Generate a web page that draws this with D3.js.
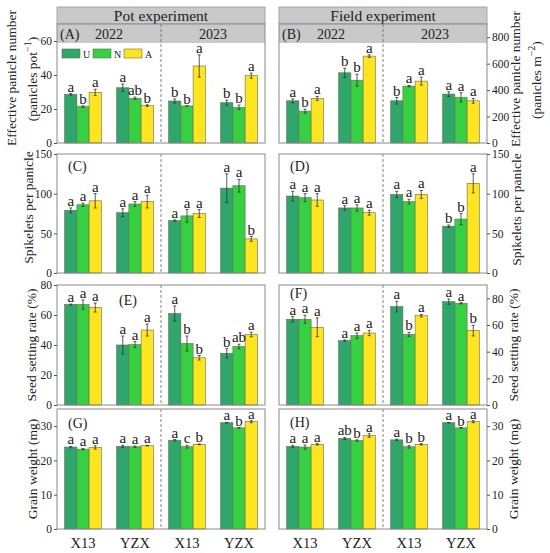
<!DOCTYPE html>
<html>
<head>
<meta charset="utf-8">
<script src="https://cdn.jsdelivr.net/npm/d3@7"></script>
<style>
body { margin: 0; background: #fff; }
text { font-family: "Liberation Serif", "Times New Roman", serif; fill: #222; }
</style>
</head>
<body>
<script>
// categories
var cultivars = ["X13", "YZX", "X13", "YZX"];
var years = ["2022", "2023"];
var treatments = ["U", "N", "A"];
var colors = { U: "#2fa66c", N: "#35d142", A: "#ffe51f" };

// values, one row per group [U, N, A]
var panPotMean = [[28.6, 21.4, 29.8], [32.5, 26.3, 22.0], [24.7, 21.8, 45.3], [23.7, 21.0, 39.6]];
var panPotErr = [[0.5, 0.5, 1.8], [2.2, 0.7, 0.5], [1.2, 0, 6.5], [1.5, 1.3, 1.5]];
var panPotLet = [["a", "b", "a"], ["a", "ab", "b"], ["b", "b", "a"], ["b", "b", "a"]];

var panFieldMean = [[319, 241, 337], [531, 475, 657], [319, 430, 468], [370, 345, 319]];
var panFieldErr = [[15, 15, 15], [35, 45, 10], [25, 5, 30], [18, 35, 18]];
var panFieldLet = [["a", "b", "a"], ["b", "b", "a"], ["b", "a", "a"], ["a", "a", "a"]];

var spkPotMean = [[79, 86, 91], [76, 87, 90], [66, 72, 75], [107, 110, 43]];
var spkPotErr = [[3, 2, 9], [5, 3, 8], [1, 8, 5], [18, 8, 3]];
var spkPotLet = [["a", "a", "a"], ["a", "a", "a"], ["a", "a", "a"], ["a", "a", "b"]];

var spkFieldMean = [[97, 95, 92], [82, 82, 76], [99, 90, 99], [59, 68, 113]];
var spkFieldErr = [[6, 5, 8], [3, 4, 3], [4, 3, 5], [1.5, 7, 12]];
var spkFieldLet = [["a", "a", "a"], ["a", "a", "a"], ["a", "a", "a"], ["b", "b", "a"]];

var seedPotMean = [[67, 67, 65], [40, 40.3, 50], [61, 41, 31.5], [34.5, 39, 47]];
var seedPotErr = [[0.3, 3, 3], [6, 2, 4], [5, 5, 1.5], [3, 1.5, 1.5]];
var seedPotLet = [["a", "a", "a"], ["a", "a", "a"], ["a", "b", "b"], ["b", "ab", "a"]];

var seedFieldMean = [[64.3, 64.3, 58.3], [48.3, 52, 54], [73.8, 53, 67], [77.5, 76.3, 55.8]];
var seedFieldErr = [[2, 3, 7], [0.5, 2, 2], [4, 1.5, 1], [2, 0.5, 4]];
var seedFieldLet = [["a", "a", "a"], ["a", "a", "a"], ["a", "b", "a"], ["a", "a", "b"]];

var gwPotMean = [[23.9, 23.3, 23.8], [24.1, 24.0, 24.3], [25.9, 24.0, 24.7], [31.0, 29.5, 31.3]];
var gwPotErr = [[0.2, 0.2, 0.5], [0.3, 0.2, 0.1], [0.2, 0.4, 0.1], [0.1, 0.1, 0.3]];
var gwPotLet = [["a", "a", "a"], ["a", "a", "a"], ["a", "c", "b"], ["a", "b", "a"]];

var gwFieldMean = [[24.1, 23.9, 24.7], [26.4, 25.8, 27.3], [26.0, 24.0, 24.7], [31.0, 29.5, 31.3]];
var gwFieldErr = [[0.3, 0.6, 0.2], [0.3, 0.2, 0.5], [0.2, 0.4, 0.2], [0.1, 0.1, 0.3]];
var gwFieldLet = [["a", "a", "a"], ["ab", "b", "a"], ["a", "b", "b"], ["a", "b", "a"]];

// tick values
var ticksPanPot = [0, 20, 40, 60];
var ticksPanField = [0, 200, 400, 600, 800];
var ticksSpk = [0, 50, 100, 150];
var ticksSeed = [0, 20, 40, 60, 80];
var ticksGw = [0, 10, 20, 30];

// layout
var colX = [57, 279];
var colW = 208;
var rowTop = [24, 154, 285, 409];
var rowH = [119, 119, 120, 120];

var panels = [
  { id: "(A)", col: 0, row: 0, mean: panPotMean, err: panPotErr, lett: panPotLet, max: 70, ticks: ticksPanPot, lx: 3, ly: 15 },
  { id: "(B)", col: 1, row: 0, mean: panFieldMean, err: panFieldErr, lett: panFieldLet, max: 900, ticks: ticksPanField, lx: 3, ly: 15 },
  { id: "(C)", col: 0, row: 1, mean: spkPotMean, err: spkPotErr, lett: spkPotLet, max: 150, ticks: ticksSpk, lx: 11, ly: 17 },
  { id: "(D)", col: 1, row: 1, mean: spkFieldMean, err: spkFieldErr, lett: spkFieldLet, max: 150, ticks: ticksSpk, lx: 11, ly: 17 },
  { id: "(E)", col: 0, row: 2, mean: seedPotMean, err: seedPotErr, lett: seedPotLet, max: 80, ticks: ticksSeed, lx: 62, ly: 20 },
  { id: "(F)", col: 1, row: 2, mean: seedFieldMean, err: seedFieldErr, lett: seedFieldLet, max: 90, ticks: ticksSeed, lx: 11, ly: 13 },
  { id: "(G)", col: 0, row: 3, mean: gwPotMean, err: gwPotErr, lett: gwPotLet, max: 35, ticks: ticksGw, lx: 11, ly: 19 },
  { id: "(H)", col: 1, row: 3, mean: gwFieldMean, err: gwFieldErr, lett: gwFieldLet, max: 35, ticks: ticksGw, lx: 11, ly: 18 }
];

var svg = d3.select("body").append("svg")
  .attr("width", 550)
  .attr("height", 553);

// top headers
["Pot experiment", "Field experiment"].forEach(function(t, c) {
  svg.append("rect")
    .attr("x", colX[c]).attr("y", 7)
    .attr("width", colW).attr("height", rowTop[0] - 7)
    .attr("fill", "#c9c9c9").attr("stroke", "#9a9a9a").attr("stroke-width", 0.8);
  svg.append("text")
    .attr("x", colX[c] + colW / 2).attr("y", 21)
    .attr("text-anchor", "middle")
    .style("font-size", "15.5px")
    .text(t);
});

panels.forEach(function(p) {
  var x0 = colX[p.col], top = rowTop[p.row], h = rowH[p.row];
  var g = svg.append("g");

  var x = d3.scaleBand().domain(d3.range(4)).range([x0, x0 + colW]);
  var xs = d3.scaleBand().domain(treatments)
    .range([x.bandwidth() * 0.147, x.bandwidth() * 0.853]);
  var y = d3.scaleLinear().domain([0, p.max]).range([top + h, top]);

  // year band on first row
  if (p.row == 0) {
    g.append("rect")
      .attr("x", x0).attr("y", top)
      .attr("width", colW).attr("height", 19)
      .attr("fill", "#c9c9c9");
    years.forEach(function(yr, i) {
      g.append("text")
        .attr("x", x0 + colW / 4 + i * colW / 2).attr("y", top + 15)
        .attr("text-anchor", "middle")
        .style("font-size", "14px")
        .text(yr);
    });
  }

  // bars
  var rows = [];
  p.mean.forEach(function(m, gi) {
    treatments.forEach(function(t, ti) {
      rows.push({ g: gi, t: t, v: m[ti], e: p.err[gi][ti], l: p.lett[gi][ti] });
    });
  });

  g.selectAll(".bar").data(rows).enter().append("rect")
    .attr("x", function(d) { return x(d.g) + xs(d.t); })
    .attr("y", function(d) { return y(d.v); })
    .attr("width", xs.bandwidth())
    .attr("height", function(d) { return y(0) - y(d.v); })
    .attr("fill", function(d) { return colors[d.t]; })
    .attr("stroke", "#6b6b4a")
    .attr("stroke-width", 0.6);

  // error bars
  var cx = function(d) { return x(d.g) + xs(d.t) + xs.bandwidth() / 2; };
  g.selectAll(".eb").data(rows).enter().append("line")
    .attr("x1", cx).attr("x2", cx)
    .attr("y1", function(d) { return y(d.v - d.e); })
    .attr("y2", function(d) { return y(d.v + d.e); })
    .attr("stroke", "#333").attr("stroke-width", 0.8);
  [-1, 1].forEach(function(s) {
    g.selectAll(".cap").data(rows).enter().append("line")
      .attr("x1", function(d) { return cx(d) - 1.5; })
      .attr("x2", function(d) { return cx(d) + 1.5; })
      .attr("y1", function(d) { return y(d.v + s * d.e); })
      .attr("y2", function(d) { return y(d.v + s * d.e); })
      .attr("stroke", "#333").attr("stroke-width", 0.8);
  });

  // significance letters
  g.selectAll(".lt").data(rows).enter().append("text")
    .attr("x", cx)
    .attr("y", function(d) { return y(d.v + d.e) - 2; })
    .attr("text-anchor", "middle")
    .style("font-size", "15px")
    .text(function(d) { return d.l; });

  // dashed divider
  g.append("line")
    .attr("x1", x0 + colW / 2).attr("x2", x0 + colW / 2)
    .attr("y1", top).attr("y2", top + h)
    .attr("stroke", "#666").attr("stroke-width", 0.8)
    .attr("stroke-dasharray", "3,2");

  // frame
  g.append("rect")
    .attr("x", x0).attr("y", top)
    .attr("width", colW).attr("height", h)
    .attr("fill", "none").attr("stroke", "#8a8a8a").attr("stroke-width", 1);

  // y axis
  var axis = p.col == 0 ? d3.axisLeft(y) : d3.axisRight(y);
  axis.tickValues(p.ticks).tickSize(3).tickPadding(2);
  var ax = g.append("g")
    .attr("transform", "translate(" + (p.col == 0 ? x0 : x0 + colW) + ",0)")
    .call(axis);
  ax.select(".domain").remove();
  ax.selectAll("line").attr("stroke", "#555");
  ax.selectAll("text")
    .style("font-family", "Liberation Serif, serif")
    .style("font-size", "11.5px")
    .attr("fill", "#333");

  // panel label
  g.append("text")
    .attr("x", x0 + p.lx).attr("y", top + p.ly)
    .style("font-size", "14px")
    .text(p.id);

  // x labels on bottom row
  if (p.row == 3) {
    cultivars.forEach(function(c, i) {
      g.append("text")
        .attr("x", x(i) + x.bandwidth() / 2).attr("y", top + h + 19)
        .attr("text-anchor", "middle")
        .style("font-size", "14.5px")
        .text(c);
    });
  }
});

// legend in panel A
var legend = svg.selectAll("g.legend")
  .data(treatments)
  .enter().append("g")
  .attr("class", "legend")
  .attr("transform", function(d, i) { return "translate(" + (62 + i * 31) + ",49)"; });
legend.append("rect")
  .attr("width", 18).attr("height", 9)
  .attr("fill", function(d) { return colors[d]; })
  .attr("stroke", "#6b6b4a").attr("stroke-width", 0.6);
legend.append("text")
  .attr("x", 21).attr("y", 9)
  .style("font-size", "10px")
  .text(function(d) { return d; });

// y axis titles
function yTitle(cx, cy, parts) {
  var t = svg.append("text")
    .attr("transform", "translate(" + cx + "," + cy + ") rotate(-90)")
    .attr("text-anchor", "middle")
    .style("font-size", "13.5px");
  parts.forEach(function(s) {
    var ts = t.append("tspan").text(s.t);
    if (s.sup) ts.attr("dy", -6).style("font-size", "10px");
    if (s.after) ts.attr("dy", 6);
  });
}

var mid = function(r) { return rowTop[r] + rowH[r] / 2; };
yTitle(16, 78, [{ t: "Effective panicle number" }]);
yTitle(37, 79, [{ t: "(panicles pot" }, { t: "\u22121", sup: true }, { t: ")", after: true }]);
yTitle(33, mid(1) - 6, [{ t: "Spikelets per panicle" }]);
yTitle(36, mid(2), [{ t: "Seed setting rate (%)" }]);
yTitle(37, mid(3), [{ t: "Grain weight (mg)" }]);

yTitle(520, 79, [{ t: "Effective panicle number" }]);
yTitle(541, 80, [{ t: "(panicles m" }, { t: "\u22122", sup: true }, { t: ")", after: true }]);
yTitle(521, mid(1) - 4, [{ t: "Spikelets per panicle" }]);
yTitle(518, mid(2), [{ t: "Seed setting rate (%)" }]);
yTitle(518, mid(3), [{ t: "Grain weight (mg)" }]);
</script>
</body>
</html>
